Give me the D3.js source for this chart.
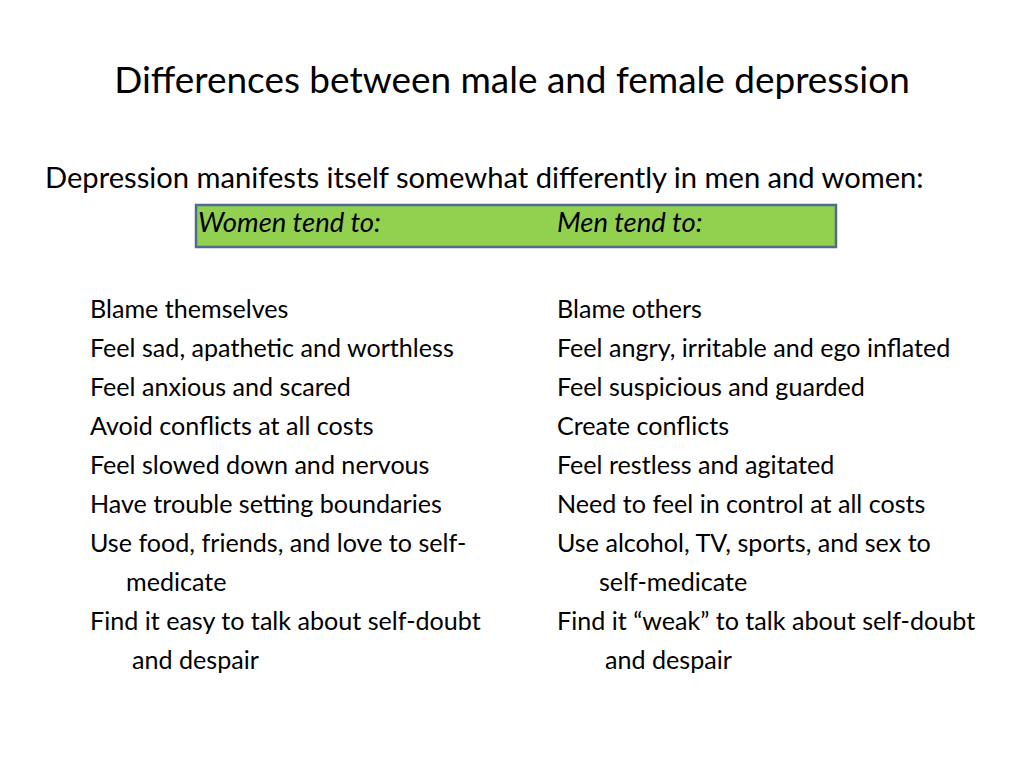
<!DOCTYPE html>
<html><head><meta charset="utf-8">
<script src="https://cdn.jsdelivr.net/npm/d3@7"></script>
<style>html,body{margin:0;padding:0;background:#fff;}svg{display:block;}</style>
</head><body>
<script>
const title = "Differences between male and female depression";
const subtitle = "Depression manifests itself somewhat differently in men and women:";
const headers = ["Women tend to:", "Men tend to:"];
// each line: [text, indent level (0 = item start, 1 = continuation)]
const womenLines = [
  ["Blame themselves", 0],
  ["Feel sad, apathetic and worthless", 0],
  ["Feel anxious and scared", 0],
  ["Avoid conflicts at all costs", 0],
  ["Feel slowed down and nervous", 0],
  ["Have trouble setting boundaries", 0],
  ["Use food, friends, and love to self-", 0],
  ["medicate", 1],
  ["Find it easy to talk about self-doubt", 0],
  ["and despair", 2]
];
const menLines = [
  ["Blame others", 0],
  ["Feel angry, irritable and ego inflated", 0],
  ["Feel suspicious and guarded", 0],
  ["Create conflicts", 0],
  ["Feel restless and agitated", 0],
  ["Need to feel in control at all costs", 0],
  ["Use alcohol, TV, sports, and sex to", 0],
  ["self-medicate", 1],
  ["Find it \u201cweak\u201d to talk about self-doubt", 0],
  ["and despair", 2]
];

const W = 1024, H = 768;
const FONT = "Lato, 'Open Sans', sans-serif";
const svg = d3.select("body").append("svg").attr("width", W).attr("height", H);

// fit a text element's font size so its width equals target
function fitSize(text, target, italic) {
  const t = svg.append("text").attr("font-family", FONT).attr("font-size", 100)
    .attr("font-style", italic ? "italic" : "normal").text(text);
  const w = t.node().getComputedTextLength();
  t.remove();
  return 100 * target / w;
}

// Title
const titleSize = fitSize(title, 796);
svg.append("text").attr("x", 512).attr("y", 93).attr("text-anchor", "middle")
  .attr("font-family", FONT).attr("font-size", titleSize).attr("fill", "#000").text(title);

// Subtitle
const subSize = fitSize(subtitle, 879);
svg.append("text").attr("x", 45).attr("y", 188)
  .attr("font-family", FONT).attr("font-size", subSize).attr("fill", "#000").text(subtitle);

// Green header box
svg.append("rect").attr("x", 196).attr("y", 205).attr("width", 640).attr("height", 42)
  .attr("fill", "#92D050").attr("stroke", "#4F6B8E").attr("stroke-width", 2.5);

const colX = d3.scaleOrdinal().domain([0, 1]).range([198, 557]);
const hdrSize = fitSize(headers[0], 183, true);
svg.selectAll("text.hdr").data(headers).join("text").attr("class", "hdr")
  .attr("x", (d, i) => colX(i)).attr("y", 232)
  .attr("font-family", FONT).attr("font-style", "italic").attr("font-size", hdrSize)
  .attr("fill", "#000").text(d => d);

// Rows
const rowY = d3.scalePoint().domain(d3.range(womenLines.length)).range([318, 669]);
const bodySize = fitSize(womenLines[1][0], 364);
const leftIndent = [90, 126, 132];
const rightIndent = [557, 599, 605];

svg.selectAll("text.wl").data(womenLines).join("text").attr("class", "wl")
  .attr("x", d => leftIndent[d[1]]).attr("y", (d, i) => rowY(i))
  .attr("font-family", FONT).attr("font-size", bodySize).attr("fill", "#000").text(d => d[0]);

svg.selectAll("text.ml").data(menLines).join("text").attr("class", "ml")
  .attr("x", d => rightIndent[d[1]]).attr("y", (d, i) => rowY(i))
  .attr("font-family", FONT).attr("font-size", bodySize).attr("fill", "#000").text(d => d[0]);
</script>
</body></html>
